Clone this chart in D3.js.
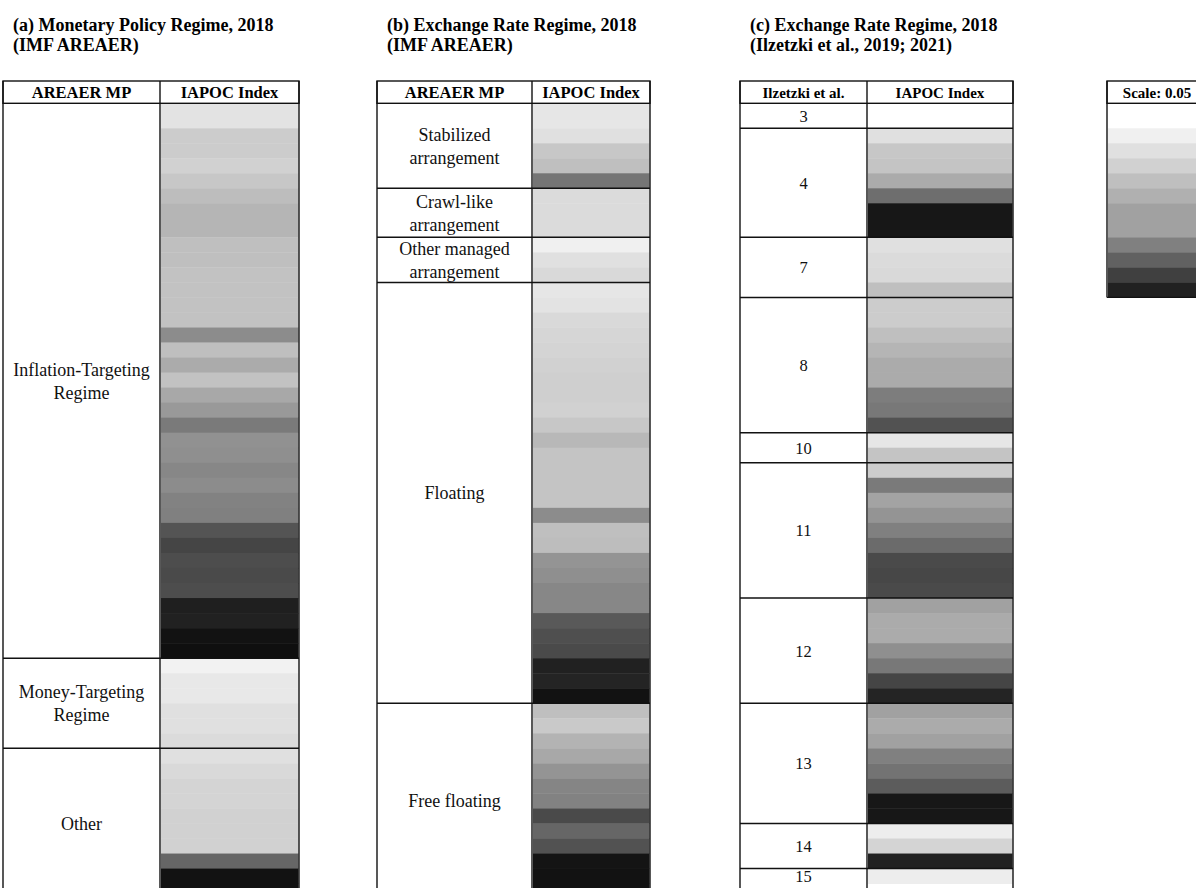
<!DOCTYPE html>
<html>
<head>
<meta charset="utf-8">
<script src="https://cdn.jsdelivr.net/npm/d3@7"></script>
<style>
  body { margin: 0; background: #fff; }
  svg { display: block; }
</style>
</head>
<body>
<svg id="chart" width="1196" height="888"></svg>
<script>
// ---------------------------------------------------------------
// Data: IAPOC index per country (0 = white, 1 = black), sorted
// within each regime group, one value per table row.
// ---------------------------------------------------------------

// (a) Monetary policy regime
const mpGroups = ["Inflation-Targeting\nRegime", "Money-Targeting\nRegime", "Other"];
const mpInflationTargeting = [
  0.11, 0.20, 0.20, 0.18, 0.22, 0.26, 0.29, 0.25, 0.25, 0.24,
  0.24, 0.24, 0.24, 0.45, 0.25, 0.33, 0.24, 0.34, 0.40, 0.52,
  0.43, 0.44, 0.47, 0.45, 0.49, 0.50, 0.67, 0.73, 0.70, 0.71,
  0.70, 0.88, 0.87, 0.93, 0.94
];
const mpMoneyTargeting = [0.05, 0.09, 0.09, 0.12, 0.12, 0.14];
const mpOther = [0.12, 0.15, 0.17, 0.17, 0.18, 0.18, 0.18, 0.60, 0.93, 0.93];

// (b) Exchange rate regime, IMF AREAER
const erGroups = ["Stabilized\narrangement", "Crawl-like\narrangement",
                  "Other managed\narrangement", "Floating", "Free floating"];
const erStabilized = [0.10, 0.12, 0.22, 0.25, 0.54];
const erCrawlLike = [0.14, 0.14];
const erOtherManaged = [0.06, 0.12, 0.15];
const erFloating = [
  0.10, 0.11, 0.15, 0.16, 0.17, 0.18, 0.19, 0.19, 0.18, 0.22,
  0.28, 0.23, 0.23, 0.23, 0.23, 0.45, 0.25, 0.26, 0.42, 0.44,
  0.47, 0.47, 0.65, 0.69, 0.71, 0.87, 0.86, 0.93
];
const erFreeFloating = [0.25, 0.21, 0.30, 0.34, 0.42, 0.48, 0.49, 0.71, 0.60, 0.68, 0.92, 0.93, 0.93];

// (c) Exchange rate regime, Ilzetzki et al. fine classification
const izGroups = ["3", "4", "7", "8", "10", "11", "12", "13", "14", "15"];
const izValues = [
  [0.00],
  [0.12, 0.22, 0.23, 0.33, 0.57, 0.91],
  [0.12, 0.14, 0.15, 0.25],
  [0.20, 0.20, 0.25, 0.29, 0.33, 0.33, 0.51, 0.53, 0.68],
  [0.10, 0.23],
  [0.20, 0.52, 0.36, 0.42, 0.50, 0.58, 0.71, 0.72, 0.71],
  [0.37, 0.33, 0.33, 0.44, 0.53, 0.73, 0.86],
  [0.37, 0.33, 0.37, 0.50, 0.55, 0.64, 0.91, 0.91],
  [0.07, 0.17, 0.87],
  [0.07]
];

// Shade key
const scaleTitle = "Scale: 0.05";
const scaleSteps = [0.00, 0.06, 0.12, 0.18, 0.25, 0.31, 0.37, 0.50, 0.62, 0.75, 0.87];

// ---------------------------------------------------------------
// Layout
// ---------------------------------------------------------------
const FONT = "'Liberation Serif', 'Times New Roman', Times, serif";
const HEAD_TOP = 81, HEAD_BOTTOM = 103.3;

const svg = d3.select("#chart");

// Row index -> y. The first row and the seventh row of the sheet are taller.
const TOTAL_ROWS = 51;
const y = d3.scaleLinear()
  .domain([0, 1, 6, 7, TOTAL_ROWS])
  .range([HEAD_BOTTOM, 128.3, 203.2, 237.3, 237.3 + (TOTAL_ROWS - 7) * 15.03]);

// Index -> grey shade
const shade = d3.scaleLinear().domain([0, 1]).range(["#ffffff", "#000000"]);

const panels = [
  {
    title: ["(a) Monetary Policy Regime, 2018", "(IMF AREAER)"],
    header: ["AREAER MP", "IAPOC Index"],
    left: 3, mid: 160, right: 299, titleX: 13,
    headSize: 16.5, bodySize: 18,
    groups: mpGroups,
    values: [mpInflationTargeting, mpMoneyTargeting, mpOther]
  },
  {
    title: ["(b) Exchange Rate Regime, 2018", "(IMF AREAER)"],
    header: ["AREAER MP", "IAPOC Index"],
    left: 377, mid: 532, right: 650, titleX: 387,
    headSize: 16.5, bodySize: 18,
    groups: erGroups,
    values: [erStabilized, erCrawlLike, erOtherManaged, erFloating, erFreeFloating]
  },
  {
    title: ["(c) Exchange Rate Regime, 2018", "(Ilzetzki et al., 2019; 2021)"],
    header: ["Ilzetzki et al.", "IAPOC Index"],
    left: 740, mid: 867, right: 1013, titleX: 750,
    headSize: 15, bodySize: 16.5,
    groups: izGroups,
    values: izValues
  }
];

function drawPanel(p) {
  const g = svg.append("g");

  // Title
  g.append("text")
    .attr("x", p.titleX).attr("y", 31)
    .attr("font-family", FONT).attr("font-size", 18).attr("font-weight", "bold")
    .selectAll("tspan").data(p.title).join("tspan")
    .attr("x", p.titleX).attr("dy", (d, i) => i === 0 ? 0 : 19.5)
    .text(d => d);

  // Rows: flatten groups with running row index
  let idx = 0;
  const rows = [];
  const spans = [];
  p.values.forEach((vals, gi) => {
    spans.push({ label: p.groups[gi], start: idx, end: idx + vals.length });
    vals.forEach(v => rows.push({ i: idx++, v }));
  });

  // Shaded index cells
  g.selectAll("rect.cell").data(rows).join("rect")
    .attr("class", "cell")
    .attr("x", p.mid + 1)
    .attr("width", p.right - p.mid - 1.5)
    .attr("y", d => y(d.i))
    .attr("height", d => y(d.i + 1) - y(d.i) + 0.4)
    .attr("fill", d => shade(d.v));

  const lineColor = "#111";

  // Header box
  g.append("rect")
    .attr("x", p.left).attr("y", HEAD_TOP)
    .attr("width", p.right - p.left).attr("height", HEAD_BOTTOM - HEAD_TOP)
    .attr("fill", "none").attr("stroke", lineColor).attr("stroke-width", 1.4);

  // Header labels
  const headCenters = [(p.left + p.mid) / 2, (p.mid + p.right) / 2];
  g.selectAll("text.head").data(p.header).join("text")
    .attr("class", "head")
    .attr("x", (d, i) => headCenters[i]).attr("y", 97.5)
    .attr("text-anchor", "middle")
    .attr("font-family", FONT).attr("font-size", p.headSize).attr("font-weight", "bold")
    .text(d => d);

  // Group separators
  g.selectAll("line.sep").data(spans.slice(1)).join("line")
    .attr("class", "sep")
    .attr("x1", p.left).attr("x2", p.right)
    .attr("y1", d => y(d.start)).attr("y2", d => y(d.start))
    .attr("stroke", lineColor).attr("stroke-width", 1.5);

  // Vertical borders
  g.selectAll("line.vert").data([p.left, p.mid, p.right]).join("line")
    .attr("class", "vert")
    .attr("x1", d => d).attr("x2", d => d)
    .attr("y1", HEAD_TOP).attr("y2", y(TOTAL_ROWS))
    .attr("stroke", lineColor).attr("stroke-width", 1.4);

  // Group labels, centred in their span
  const labelX = (p.left + p.mid) / 2;
  const lineGap = 23.3;
  spans.forEach(s => {
    const lines = s.label.split("\n");
    const cy = (y(s.start) + y(s.end)) / 2;
    const first = cy - (lines.length - 1) * lineGap / 2 + p.bodySize * 0.36;
    g.append("text")
      .attr("text-anchor", "middle")
      .attr("font-family", FONT).attr("font-size", p.bodySize)
      .attr("fill", "#111")
      .selectAll("tspan").data(lines).join("tspan")
      .attr("x", labelX)
      .attr("y", (d, i) => first + i * lineGap)
      .text(d => d);
  });
}

panels.forEach(drawPanel);

// Shade key
(function drawKey() {
  const left = 1107, right = 1207;
  const g = svg.append("g");
  const steps = scaleSteps.map((v, i) => ({ i, v }));

  g.selectAll("rect.step").data(steps).join("rect")
    .attr("class", "step")
    .attr("x", left + 1).attr("width", right - left - 1)
    .attr("y", d => y(d.i))
    .attr("height", d => y(d.i + 1) - y(d.i) + 0.4)
    .attr("fill", d => shade(d.v));

  g.append("rect")
    .attr("x", left).attr("y", HEAD_TOP)
    .attr("width", right - left).attr("height", HEAD_BOTTOM - HEAD_TOP)
    .attr("fill", "none").attr("stroke", "#111").attr("stroke-width", 1.4);

  g.append("text")
    .attr("x", (left + right) / 2).attr("y", 97.5)
    .attr("text-anchor", "middle")
    .attr("font-family", FONT).attr("font-size", 15).attr("font-weight", "bold")
    .text(scaleTitle);

  g.append("line")
    .attr("x1", left).attr("x2", left)
    .attr("y1", HEAD_TOP).attr("y2", y(scaleSteps.length))
    .attr("stroke", "#111").attr("stroke-width", 1.4);

  g.append("line")
    .attr("x1", left).attr("x2", right)
    .attr("y1", y(scaleSteps.length)).attr("y2", y(scaleSteps.length))
    .attr("stroke", "#111").attr("stroke-width", 1.4);
})();
</script>
</body>
</html>
